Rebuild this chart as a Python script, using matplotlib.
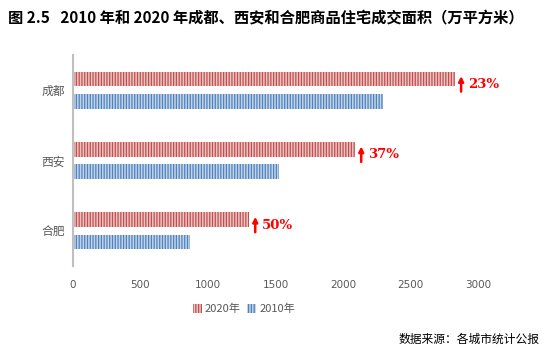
import matplotlib
matplotlib.use('Agg')
import matplotlib.pyplot as plt
import numpy as np

plt.rcParams['font.family'] = ['Noto Sans CJK SC', 'DejaVu Sans']
plt.rcParams['hatch.linewidth'] = 0.9

# 数据（万平方米）
cities = ['成都', '西安', '合肥']
area_2020 = [2830, 2090, 1305]
area_2010 = [2295, 1525, 870]
growth = ['23%', '37%', '50%']
x_ticks = [0, 500, 1000, 1500, 2000, 2500, 3000]

fig = plt.figure(figsize=(5.58, 3.49), dpi=100)
ax = fig.add_axes([0.1308, 0.2378, 0.7258, 0.6046])

y = np.arange(len(cities))
h = 0.21
off = 0.16

ax.barh(y - off, area_2020, height=h, facecolor='#ecc4c3', edgecolor='#c0504d',
        hatch='||||||', linewidth=0, label='2020年')
ax.barh(y + off, area_2010, height=h, facecolor='#c3d5ea', edgecolor='#4f81bd',
        hatch='||||||', linewidth=0, label='2010年')

# 增长率标注：红色箭头 + 百分比
for i, (v, g) in enumerate(zip(area_2020, growth)):
    yc = i - off
    ax.annotate('', xy=(v + 45, yc - 0.04), xytext=(v + 45, yc + 0.18),
                arrowprops=dict(arrowstyle='-|>', color='red', lw=1.8,
                                mutation_scale=7, shrinkA=0, shrinkB=0))
    ax.text(v + 95, yc + 0.08, g, color='red', fontsize=9.5,
            fontweight='bold', family=['DejaVu Serif'], va='center', ha='left')

ax.set_ylim(2.5, -0.5)
ax.set_xlim(0, 3000)
ax.set_yticks(y)
ax.set_yticklabels(cities, fontsize=8.5, color='#595959')
ax.set_xticks(x_ticks)
ax.set_xticklabels([str(t) for t in x_ticks], fontsize=7.5, color='#595959',
                   family=['DejaVu Sans'])
ax.tick_params(axis='both', length=0)
ax.tick_params(axis='x', pad=10)
ax.tick_params(axis='y', pad=6)
for s in ['top', 'right', 'bottom']:
    ax.spines[s].set_visible(False)
ax.spines['left'].set_color('#bfbfbf')
ax.spines['left'].set_linewidth(1.5)

fig.legend(loc='center', bbox_to_anchor=(244 / 558, 1 - 309 / 349), ncol=2,
           frameon=False, fontsize=8, handlelength=0.8, handleheight=0.8,
           columnspacing=0.6, handletextpad=0.25, labelcolor='#595959')

fig.text(8 / 558, 1 - 18 / 349,
         '图 2.5   2010 年和 2020 年成都、西安和合肥商品住宅成交面积（万平方米）',
         fontsize=11, fontweight='bold', ha='left', va='center')
fig.text(540 / 558, 1 - 339 / 349, '数据来源：各城市统计公报', fontsize=8.5,
         ha='right', va='center')

fig.savefig('out.png', dpi=100)
